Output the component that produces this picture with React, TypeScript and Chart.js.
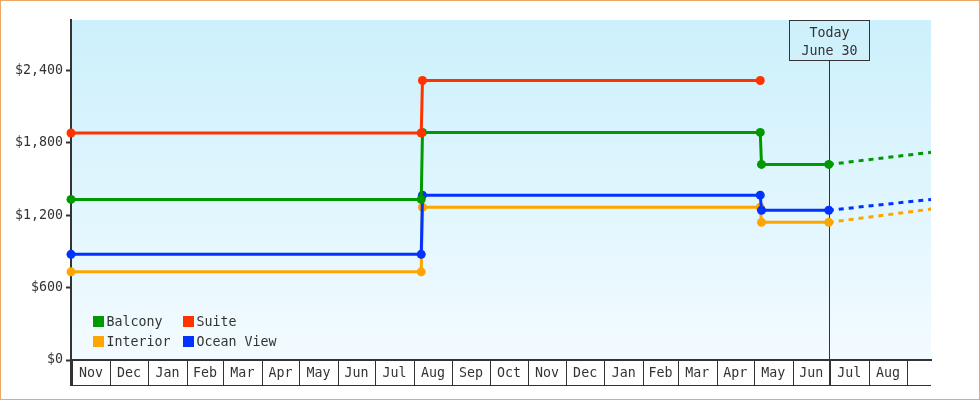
import React, { useEffect, useRef } from "react";
import { Chart, registerables } from "chart.js";

Chart.register(...registerables);

const day = (s: string) => Date.parse(s + "T00:00:00Z");

// price change dates (last one is the projection end)
const DATES = ["2023-10-31", "2024-08-07", "2024-08-08", "2025-05-06", "2025-05-07", "2025-06-30", "2025-09-20"];
const BALCONY = [1330, 1330, 1885, 1885, 1620, 1620, 1720];
const SUITE = [1880, 1880, 2315, 2315];
const INTERIOR = [730, 730, 1265, 1265, 1140, 1140, 1250];
const OCEAN_VIEW = [875, 875, 1365, 1365, 1240, 1240, 1330];

const SERIES_NAMES = ["Balcony", "Suite", "Interior", "Ocean View"];
const SERIES_COLORS = ["#009900", "#ff3300", "#ffa500", "#0033ff"];
const SERIES_VALUES = [BALCONY, SUITE, INTERIOR, OCEAN_VIEW];
const SERIES_ORDER = [1, 0, 3, 2];

const Y_TICKS = [0, 600, 1200, 1800, 2400];
const Y_MAX = 2816;
const MONTH_LABELS = ["Nov", "Dec", "Jan", "Feb", "Mar", "Apr", "May", "Jun", "Jul", "Aug", "Sep", "Oct",
  "Nov", "Dec", "Jan", "Feb", "Mar", "Apr", "May", "Jun", "Jul", "Aug"];
const FIRST_MONTH = { year: 2023, month: 10 };
const TODAY = "2025-06-30";
const TODAY_LABEL = ["Today", "June 30"];

const FONT = "DejaVu Sans Mono";
const FONT_SIZE = 13.3;
const INK = "#333";

const monthStart = (i: number) => Date.UTC(FIRST_MONTH.year, FIRST_MONTH.month + i, 1);

const backdrop = {
  id: "backdrop",
  beforeDraw(chart: any) {
    const { ctx, chartArea: a } = chart;
    const g = ctx.createLinearGradient(0, a.top, 0, a.bottom);
    g.addColorStop(0, "#ccf0fc");
    g.addColorStop(1, "#f3fbff");
    ctx.save();
    ctx.fillStyle = g;
    ctx.fillRect(a.left, a.top, a.right - a.left, a.bottom - a.top);
    ctx.restore();
  },
};

const todayMarker = {
  id: "todayMarker",
  beforeDatasetsDraw(chart: any) {
    const { ctx, chartArea: a } = chart;
    const tx = Math.round(chart.scales.x.getPixelForValue(day(TODAY))) + 0.5;
    const top = a.top + 0.5;
    ctx.save();
    ctx.strokeStyle = INK;
    ctx.lineWidth = 1;
    ctx.strokeRect(tx - 40, top, 80, 40);
    ctx.beginPath();
    ctx.moveTo(tx, top + 40);
    ctx.lineTo(tx, a.bottom + 25);
    ctx.stroke();
    ctx.fillStyle = INK;
    ctx.font = `${FONT_SIZE}px "${FONT}"`;
    ctx.textAlign = "center";
    ctx.textBaseline = "middle";
    ctx.fillText(TODAY_LABEL[0], tx, a.top + 14);
    ctx.fillText(TODAY_LABEL[1], tx, a.top + 31.5);
    ctx.restore();
  },
};

const monthBoxes = {
  id: "monthBoxes",
  afterDraw(chart: any) {
    const { ctx, chartArea: a } = chart;
    const xs = chart.scales.x;
    const boxBottom = a.bottom + 25;
    ctx.save();
    ctx.strokeStyle = INK;
    ctx.lineWidth = 1;
    ctx.beginPath();
    for (let i = 0; i <= MONTH_LABELS.length; i++) {
      const px = Math.round(xs.getPixelForValue(monthStart(i))) + 0.5;
      ctx.moveTo(px, a.bottom);
      ctx.lineTo(px, boxBottom);
    }
    ctx.moveTo(a.left, boxBottom + 0.5);
    ctx.lineTo(a.right, boxBottom + 0.5);
    ctx.stroke();
    ctx.lineWidth = 2;
    ctx.beginPath();
    ctx.moveTo(a.left, a.bottom);
    ctx.lineTo(a.left, boxBottom + 1);
    ctx.stroke();
    ctx.restore();
  },
};

const legendBox = {
  id: "legendBox",
  afterDraw(chart: any) {
    const { ctx, chartArea: a } = chart;
    ctx.save();
    ctx.font = `${FONT_SIZE}px "${FONT}"`;
    ctx.textBaseline = "middle";
    ctx.textAlign = "left";
    SERIES_NAMES.forEach((name, i) => {
      const col = i % 2;
      const row = Math.floor(i / 2);
      const x = a.left + 22 + col * 90;
      const y = a.bottom - 44 + row * 20;
      ctx.fillStyle = SERIES_COLORS[i];
      ctx.fillRect(x, y, 11, 11);
      ctx.fillStyle = INK;
      ctx.fillText(name, x + 13.5, y + 6.5);
    });
    ctx.restore();
  },
};

const App: React.FC = () => {
  const chartRef = useRef<HTMLCanvasElement>(null);

  useEffect(() => {
    const ctx = chartRef.current?.getContext("2d");
    if (!ctx) return;
    const todayMs = day(TODAY);

    const myChart = new Chart(ctx, {
      type: "line",
      data: {
        datasets: SERIES_NAMES.map((name, i) => ({
          label: name,
          order: SERIES_ORDER[i],
          data: SERIES_VALUES[i].map((v, j) => ({ x: day(DATES[j]), y: v })),
          borderColor: SERIES_COLORS[i],
          backgroundColor: SERIES_COLORS[i],
          borderWidth: 3,
          tension: 0,
          fill: false,
          clip: false,
          pointStyle: "circle",
          pointRadius: SERIES_VALUES[i].map((_, j) => (day(DATES[j]) > todayMs ? 0 : 4.5)),
          pointBorderWidth: 0,
          pointBackgroundColor: SERIES_COLORS[i],
          segment: {
            borderDash: (c: any) => (c.p0.parsed.x >= todayMs ? [5, 5] : undefined),
          },
        })),
      },
      options: {
        responsive: true,
        maintainAspectRatio: false,
        animation: false,
        devicePixelRatio: 1,
        layout: { padding: { top: 19, right: 48, bottom: 14, left: 0 } },
        plugins: {
          legend: { display: false },
          tooltip: { enabled: false },
        },
        scales: {
          x: {
            type: "linear",
            min: day(DATES[0]),
            max: day(DATES[DATES.length - 1]),
            afterFit: (s: any) => { s.height = 25; },
            afterBuildTicks: (s: any) => {
              s.ticks = MONTH_LABELS.map((_, i) => ({ value: (monthStart(i) + monthStart(i + 1)) / 2 }));
            },
            ticks: {
              autoSkip: false,
              maxRotation: 0,
              padding: 6,
              color: INK,
              font: { family: FONT, size: FONT_SIZE },
              callback: (_v: any, i: number) => MONTH_LABELS[i],
            },
            grid: { display: false, drawTicks: false },
            border: { display: true, color: INK, width: 2 },
          },
          y: {
            min: 0,
            max: Y_MAX,
            afterFit: (s: any) => { s.width = 70; },
            afterBuildTicks: (s: any) => {
              s.ticks = Y_TICKS.map((v) => ({ value: v }));
            },
            ticks: {
              padding: 3,
              color: INK,
              font: { family: FONT, size: FONT_SIZE },
              callback: (v: any) => "$" + Number(v).toLocaleString("en-US"),
            },
            grid: { drawOnChartArea: false, drawTicks: true, tickLength: 5, tickColor: INK, tickWidth: 2 },
            border: { display: true, color: INK, width: 2 },
          },
        },
      },
      plugins: [backdrop, todayMarker, monthBoxes, legendBox],
    });

    return () => myChart.destroy();
  }, []);

  return (
    <div
      style={{
        position: "absolute",
        left: 0,
        top: 0,
        width: "980px",
        height: "400px",
        boxSizing: "border-box",
        border: "1px solid #e9a964",
        background: "#fff",
      }}
    >
      <div style={{ position: "relative", width: "978px", height: "398px" }}>
        <canvas ref={chartRef} />
      </div>
    </div>
  );
};

export default App;
